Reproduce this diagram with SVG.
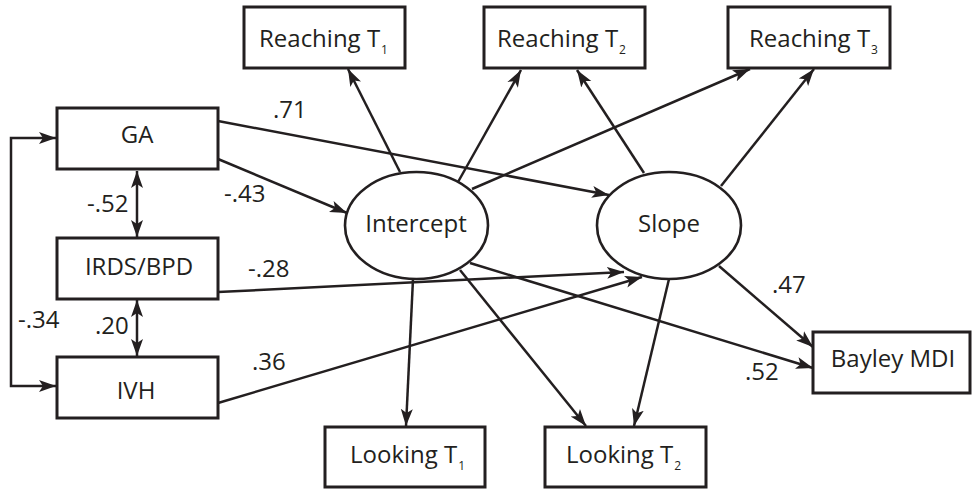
<svg xmlns="http://www.w3.org/2000/svg" width="972" height="489" viewBox="0 0 972 489">
<defs>
<style>
.box{fill:#fff;stroke:#231f20;stroke-width:3}
.ell{fill:#fff;stroke:#231f20;stroke-width:2.6}
.t{font-family:"Open Sans","Liberation Sans",sans-serif;font-size:24px;fill:#231f20}
.c{text-anchor:middle}
.sub{font-size:12px}
.e{fill:none;stroke:#231f20;stroke-width:2.5;marker-end:url(#ah)}
.d{fill:none;stroke:#231f20;stroke-width:2.5;marker-start:url(#ah);marker-end:url(#ah)}
</style>
<marker id="ah" markerUnits="userSpaceOnUse" markerWidth="18" markerHeight="14" refX="17" refY="7" orient="auto-start-reverse">
<path d="M0,1 L17,7 L0,13 L4,7 z" fill="#231f20"/>
</marker>
</defs>
<rect width="972" height="489" fill="#fff"/>
<g id="connectors">
<path class="e" d="M400,172 L348,69"/>
<path class="e" d="M458,182 L521,70"/>
<path class="e" d="M472,189 L750,69"/>
<path class="e" d="M644,173 L577,70"/>
<path class="e" d="M721,186 L814,69"/>
<path class="e" d="M218,121 L609,195"/>
<path class="e" d="M218,159 L347,213"/>
<path class="e" d="M218,292 L624,272"/>
<path class="e" d="M218,403 L642,277"/>
<path class="e" d="M413,279 L406,426"/>
<path class="e" d="M460,270 L586,426"/>
<path class="e" d="M669,279 L634,426"/>
<path class="e" d="M719,266 L813,347"/>
<path class="e" d="M470,263 L813,368"/>
<path class="d" d="M137,171 L137,237"/>
<path class="d" d="M137,300 L137,356"/>
<path class="d" d="M56,138 H11 V386 H56"/>
</g>
<g id="labels" class="t">
<text x="273" y="118">.71</text>
<text x="224" y="202">-.43</text>
<text x="87" y="212">-.52</text>
<text x="248" y="277">-.28</text>
<text x="18" y="328">-.34</text>
<text x="95" y="334">.20</text>
<text x="252" y="370">.36</text>
<text x="772" y="293">.47</text>
<text x="745" y="380">.52</text>
</g>
<g id="reaching1"><rect class="box" x="244" y="7" width="161" height="61"/><text class="t" x="259" y="47">Reaching T<tspan class="sub" dx="1" dy="7">1</tspan></text></g>
<g id="reaching2"><rect class="box" x="484" y="7" width="161" height="61"/><text class="t" x="497" y="47">Reaching T<tspan class="sub" dx="1" dy="7">2</tspan></text></g>
<g id="reaching3"><rect class="box" x="728" y="7" width="162" height="61"/><text class="t" x="749" y="47">Reaching T<tspan class="sub" dx="1" dy="7">3</tspan></text></g>
<g id="ga"><rect class="box" x="57" y="108" width="161" height="61"/><text class="t c" x="137" y="143">GA</text></g>
<g id="irds"><rect class="box" x="57" y="238" width="161" height="61"/><text class="t c" x="139" y="275">IRDS/BPD</text></g>
<g id="ivh"><rect class="box" x="57" y="357" width="161" height="61"/><text class="t c" x="136" y="399">IVH</text></g>
<g id="intercept"><ellipse class="ell" cx="416.5" cy="225.5" rx="71.5" ry="53.5"/><text class="t c" x="416" y="232">Intercept</text></g>
<g id="slope"><ellipse class="ell" cx="669" cy="225.5" rx="72" ry="53.5"/><text class="t c" x="669" y="232">Slope</text></g>
<g id="looking1"><rect class="box" x="325" y="427" width="160" height="60"/><text class="t" x="350" y="463">Looking T<tspan class="sub" dx="1" dy="7">1</tspan></text></g>
<g id="looking2"><rect class="box" x="545" y="427" width="161" height="60"/><text class="t" x="566" y="463">Looking T<tspan class="sub" dx="1" dy="7">2</tspan></text></g>
<g id="bayley"><rect class="box" x="813" y="332" width="157" height="61"/><text class="t c" x="893" y="367">Bayley MDI</text></g>
</svg>
